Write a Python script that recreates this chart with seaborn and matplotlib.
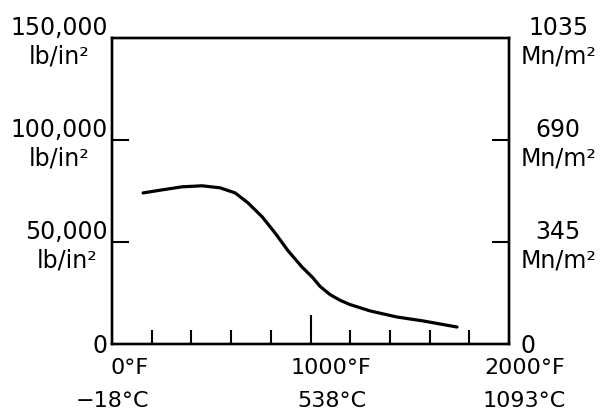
import matplotlib.pyplot as plt
import seaborn as sns
from matplotlib.transforms import ScaledTranslation

# curve
temp_f = [156, 252, 353, 453, 544, 620, 685, 756, 821, 887, 957, 1010,
          1048, 1098, 1149, 1199, 1300, 1436, 1567, 1738]
strength_psi = [74000, 75500, 77000, 77500, 76500, 74000, 69100, 62300, 54400,
                45600, 37700, 32600, 28200, 24200, 21400, 19300, 16200, 13200,
                11300, 8300]

y_ticks = [0, 50000, 100000, 150000]
left_labels = ["0", "50,000\nlb/in²", "100,000\nlb/in²", "150,000\nlb/in²"]
right_labels = ["0", "345\nMn/m²", "690\nMn/m²", "1035\nMn/m²"]
x_labels = ["0°F\n\u221218°C", "1000°F\n538°C", "2000°F\n1093°C"]
x_major = [0, 1000, 2000]
x_minor = [200, 400, 600, 800, 1200, 1400, 1600, 1800]

sns.set_style("white")
plt.rcParams["font.family"] = ["DejaVu Sans"]
plt.rcParams["text.color"] = "black"
plt.rcParams["xtick.color"] = "black"
plt.rcParams["ytick.color"] = "black"

fig, ax = plt.subplots(figsize=(6.06, 4.2), dpi=100)
fig.subplots_adjust(left=0.185, right=0.84, bottom=0.181, top=0.91)

sns.lineplot(x=temp_f, y=strength_psi, color="black", linewidth=2.3, ax=ax)

ax.set_xlim(0, 2000)
ax.set_ylim(0, 150000)
for s in ax.spines.values():
    s.set_linewidth(1.7)
    s.set_color("black")

# x axis
ax.tick_params(axis="x", which="both", bottom=True, top=False)
ax.tick_params(axis="x", which="major", direction="in", length=21, width=1.5,
               pad=10, labelsize=16)
ax.tick_params(axis="x", which="minor", direction="in", length=10, width=1.5)
ax.set_xticks(x_major, x_labels, fontsize=16, linespacing=1.85)
ax.set_xticks(x_minor, minor=True)
ticks = ax.xaxis.get_major_ticks()
ticks[0].tick1line.set_visible(False)
ticks[2].tick1line.set_visible(False)
shifts = [0, 15, 11]
for i, (lab, sh) in enumerate(zip(ax.get_xticklabels(), shifts)):
    lab.set_transform(lab.get_transform() + ScaledTranslation(sh / 72, 0, fig.dpi_scale_trans))
    lab.set_multialignment("right" if i == 0 else "center")

# left axis
ax.tick_params(axis="y", left=True, right=False, direction="in", length=12,
               width=1.5, pad=3, labelsize=17)
ax.set_yticks(y_ticks, left_labels, fontsize=17, multialignment="center")
ax.set_xlabel("")
ax.set_ylabel("")

# right axis
ax2 = ax.twinx()
ax2.set_ylim(0, 150000)
ax2.tick_params(axis="y", right=True, left=False, direction="in", length=12,
                width=1.5, pad=8, labelsize=17)
ax2.set_yticks(y_ticks, right_labels, fontsize=17, multialignment="center")
for s in ax2.spines.values():
    s.set_linewidth(1.7)
    s.set_color("black")
for a in [ax, ax2]:
    yt = a.yaxis.get_major_ticks()
    yt[0].tick1line.set_visible(False)
    yt[0].tick2line.set_visible(False)
    yt[3].tick1line.set_visible(False)
    yt[3].tick2line.set_visible(False)

fig.savefig("out.png", dpi=100)
